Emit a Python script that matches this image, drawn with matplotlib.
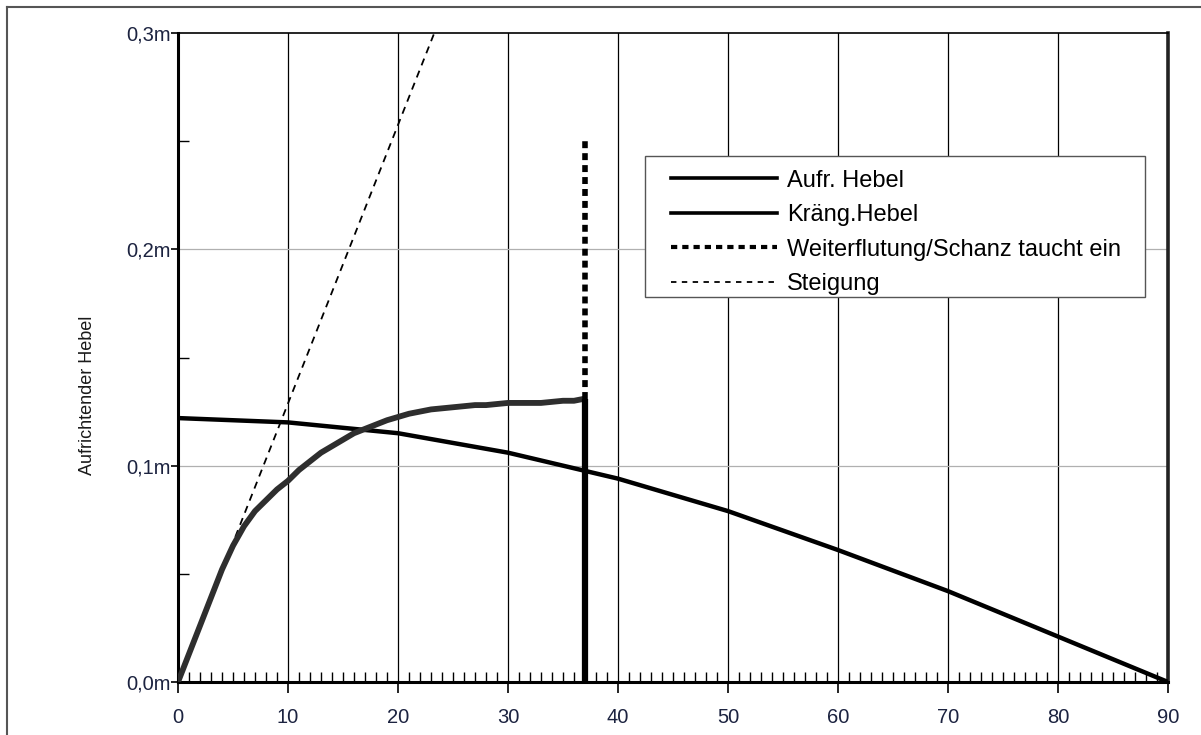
import matplotlib
matplotlib.use("Agg")
import matplotlib.pyplot as plt
from matplotlib.ticker import FixedLocator
from matplotlib.lines import Line2D
from matplotlib.patches import Rectangle

plt.rcParams['font.family'] = ['Liberation Sans', 'DejaVu Sans']

# Righting lever (Aufr. Hebel) -- degrees / metres
gz_deg = [0, 1, 2, 3, 4, 5, 6, 7, 8, 9, 10, 11, 12, 13, 14, 15, 16, 17, 18, 19,
          20, 21, 22, 23, 24, 25, 26, 27, 28, 29, 30, 31, 32, 33, 34, 35, 36, 37, 37]
gz_val = [0.0, 0.013, 0.026, 0.039, 0.052, 0.063, 0.072, 0.079, 0.084, 0.089,
          0.093, 0.098, 0.102, 0.106, 0.109, 0.112, 0.115, 0.117, 0.119, 0.121,
          0.1225, 0.124, 0.125, 0.126, 0.1265, 0.127, 0.1275, 0.128, 0.128, 0.1285,
          0.129, 0.129, 0.129, 0.129, 0.1295, 0.130, 0.130, 0.131, 0.0]

# Heeling lever (Kräng. Hebel)
hl_deg = [0, 10, 20, 30, 40, 50, 60, 70, 80, 90]
hl_val = [0.122, 0.120, 0.115, 0.106, 0.094, 0.079, 0.061, 0.042, 0.021, 0.0]

# Further flooding / bulwark immersion
wf_deg = [37, 37]
wf_val = [0.131, 0.25]

# Initial slope (Steigung)
st_deg = [0, 23.3]
st_val = [0.0, 0.3]

x_ticks = [0, 10, 20, 30, 40, 50, 60, 70, 80, 90]
y_ticks = [0.0, 0.1, 0.2, 0.3]
y_tick_labels = ['0,0m', '0,1m', '0,2m', '0,3m']
legend_labels = ['Aufr. Hebel', 'Kräng.Hebel', 'Weiterflutung/Schanz taucht ein', 'Steigung']

W, H = 1201, 735
fig = plt.figure(figsize=(W / 100, H / 100), dpi=100)
ax = fig.add_axes([178 / W, 1 - 682 / H, (1168 - 178) / W, (682 - 33) / H])

txt_col = '#1c2340'

# grid
for xv in x_ticks[1:-1]:
    ax.axvline(xv, color='black', lw=0.9, zorder=1)
for yv in y_ticks[1:-1]:
    ax.axhline(yv, color='#b0b0b0', lw=0.9, zorder=1)

# series
ax.plot(st_deg, st_val, color='black', lw=1.3, ls=(0, (4, 3.2)), zorder=3)
ax.plot(hl_deg, hl_val, color='black', lw=3.2, zorder=4, solid_capstyle='butt')
ax.plot(gz_deg[:-1], gz_val[:-1], color='#2e2e2e', lw=4.2, zorder=5,
        solid_capstyle='butt', solid_joinstyle='round')
ax.plot(gz_deg[-2:], gz_val[-2:], color='black', lw=4.5, zorder=5, solid_capstyle='butt')
ax.plot(wf_deg, wf_val, color='black', lw=4.0, ls=(0, (1.25, 0.9)), zorder=5)

ax.set_xlim(0, 90)
ax.set_ylim(0, 0.3)

ax.set_xticks(x_ticks)
ax.set_xticklabels([str(v) for v in x_ticks])
ax.xaxis.set_minor_locator(FixedLocator([v for v in range(1, 90) if v % 10 != 0]))
ax.set_yticks(y_ticks)
ax.set_yticklabels(y_tick_labels)
ax.yaxis.set_minor_locator(FixedLocator([0.05, 0.15, 0.25]))

ax.tick_params(axis='x', which='major', direction='out', length=8, width=1.2,
               pad=11, labelsize=14.5, labelcolor=txt_col)
ax.tick_params(axis='x', which='minor', direction='in', length=7, width=1.0)
ax.tick_params(axis='y', which='major', direction='out', length=5, width=1.2,
               pad=0, labelsize=14.5, labelcolor=txt_col)
ax.tick_params(axis='y', which='minor', direction='in', length=8, width=1.0)

ax.spines['left'].set_linewidth(2.2)
ax.spines['bottom'].set_linewidth(2.2)
ax.spines['top'].set_linewidth(1.2)
ax.spines['right'].set_linewidth(2.6)
ax.spines['right'].set_color('#222222')

fig.text(88 / W, 1 - 395 / H, 'Aufrichtender Hebel', rotation=90, ha='center',
         va='center', fontsize=13, color='#1a1a1a')

handles = [
    Line2D([], [], color='black', lw=2.6),
    Line2D([], [], color='black', lw=2.6),
    Line2D([], [], color='black', lw=3.0, ls=(0, (1.5, 1.2))),
    Line2D([], [], color='black', lw=1.3, ls=(0, (3, 3))),
]
leg = ax.legend(handles, legend_labels, loc='upper left',
                bbox_to_anchor=(660 / W, 1 - 159 / H), bbox_transform=fig.transFigure,
                fontsize=17, handlelength=4.5, handletextpad=0.42, labelspacing=0.53,
                borderpad=0.45, frameon=False, borderaxespad=0)
leg.set_zorder(10)

# legend frame
frame = Rectangle((645 / W, 1 - 297 / H), 500 / W, 141 / H, transform=fig.transFigure,
                  facecolor='white', edgecolor='#555555', lw=1.0, zorder=9)
ax.add_artist(frame)
frame.set_clip_on(False)

# outer frame
fig.add_artist(Line2D([7 / W, 7 / W], [0, 1 - 7 / H], transform=fig.transFigure,
                      color='#555555', lw=1.5))
fig.add_artist(Line2D([7 / W, 1], [1 - 7 / H, 1 - 7 / H], transform=fig.transFigure,
                      color='#555555', lw=1.5))

fig.savefig('out.png', dpi=100)
